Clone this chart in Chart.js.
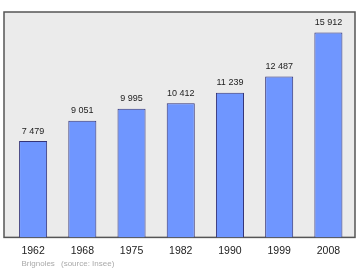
<!DOCTYPE html>
<html>
<head>
<meta charset="utf-8">
<script src="https://cdn.jsdelivr.net/npm/chart.js@4/dist/chart.umd.min.js"></script>
<style>
html,body{margin:0;padding:0;background:#fff;}
#wrap{width:360px;height:270px;}
</style>
</head>
<body>
<div id="wrap"><canvas id="c" width="360" height="270"></canvas></div>
<script>
const years = ["1962","1968","1975","1982","1990","1999","2008"];
const population = [7479, 9051, 9995, 10412, 11239, 12487, 15912];
const valueLabels = ["7 479","9 051","9 995","10 412","11 239","12 487","15 912"];
const footerPlace = "Brignoles";
const footerSource = "(source: Insee)";

const framePlugin = {
  id: 'frame',
  beforeDraw(chart) {
    const {ctx, chartArea: a} = chart;
    ctx.save();
    const l = a.left - 4.5, r = a.right + 2;
    ctx.fillStyle = '#ebebeb';
    ctx.fillRect(l, a.top, r - l, a.bottom - a.top);
    ctx.strokeStyle = '#555';
    ctx.lineWidth = 1.5;
    ctx.strokeRect(l, a.top, r - l, a.bottom - a.top);
    ctx.restore();
  },
  afterDatasetsDraw(chart) {
    const {ctx} = chart;
    const meta = chart.getDatasetMeta(0);
    ctx.save();
    ctx.font = '9px "Liberation Sans", Arial, sans-serif';
    ctx.fillStyle = '#222';
    ctx.textAlign = 'center';
    ctx.textBaseline = 'middle';
    meta.data.forEach((bar, i) => {
      ctx.fillText(valueLabels[i], bar.x, bar.y - 10);
    });
    ctx.font = '8px "Liberation Sans", Arial, sans-serif';
    ctx.fillStyle = '#aaa';
    ctx.textAlign = 'left';
    ctx.fillText(footerPlace, 21.5, 263.5);
    ctx.fillText(footerSource, 61, 263.5);
    ctx.restore();
  }
};

new Chart(document.getElementById('c'), {
  type: 'bar',
  data: {
    labels: years,
    datasets: [{
      data: population,
      backgroundColor: '#6f96ff',
      borderColor: '#333377',
      borderWidth: 1,
      barPercentage: 0.57,
      categoryPercentage: 1
    }]
  },
  options: {
    responsive: false,
    animation: false,
    events: [],
    layout: { padding: { left: 8.5, right: 7, top: 12, bottom: 6 } },
    plugins: { legend: { display: false }, tooltip: { enabled: false } },
    scales: {
      x: {
        grid: { display: false, drawTicks: false, tickLength: 0 },
        border: { display: false },
        ticks: {
          color: '#222',
          padding: 7,
          font: { size: 10.5, family: '"Liberation Sans", Arial, sans-serif' }
        }
      },
      y: {
        display: false,
        min: 0,
        max: 17500
      }
    }
  },
  plugins: [framePlugin]
});
</script>
</body>
</html>
